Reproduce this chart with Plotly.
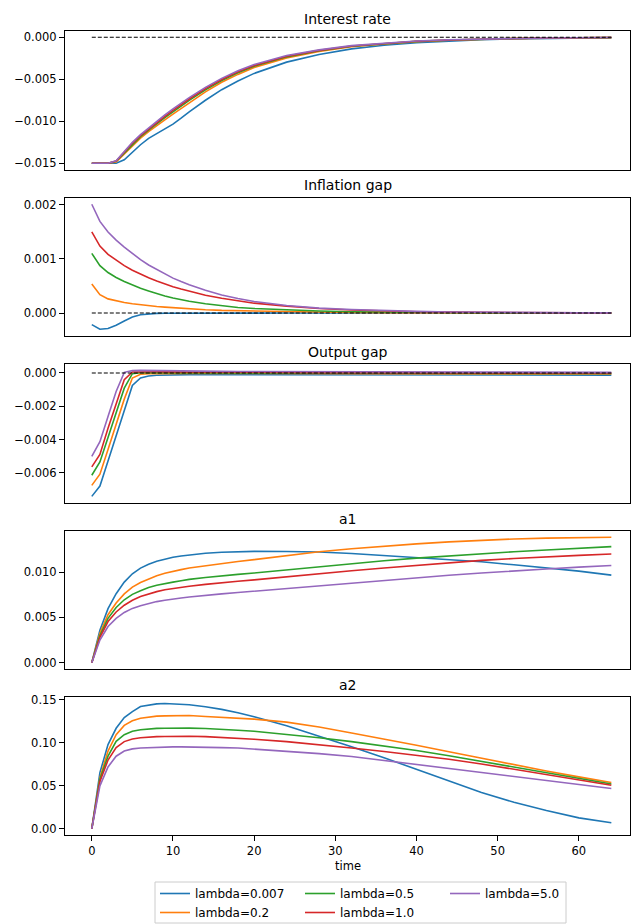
import plotly.graph_objects as go

# Simulated impulse responses, sampled on this time grid
time = [0, 1, 2, 3, 4, 5, 6, 7, 8, 9, 10, 11, 12, 14, 16, 18, 20,
        24, 28, 32, 36, 40, 44, 48, 52, 56, 60, 64]

labels = ["lambda=0.007", "lambda=0.2", "lambda=0.5", "lambda=1.0", "lambda=5.0"]
colors = ["#1f77b4", "#ff7f0e", "#2ca02c", "#d62728", "#9467bd"]
# column-wise legend layout (3 columns): 0.007, 0.5, 5.0 / 0.2, 1.0
legend_rank = [1, 4, 2, 5, 3]

interest_rate = [
    [-0.01500, -0.01500, -0.01500, -0.01500, -0.01460, -0.01370, -0.01280, -0.01204, -0.01145, -0.01093,
     -0.01034, -0.00963, -0.00888, -0.00750, -0.00624, -0.00521, -0.00430, -0.00296, -0.00205, -0.00138,
     -0.00095, -0.00065, -0.00045, -0.00030, -0.00020, -0.00013, -0.00008, -0.00005],
    [-0.01500, -0.01500, -0.01500, -0.01485, -0.01394, -0.01293, -0.01202, -0.01124, -0.01050, -0.00983,
     -0.00916, -0.00847, -0.00778, -0.00650, -0.00536, -0.00442, -0.00361, -0.00245, -0.00169, -0.00113,
     -0.00079, -0.00052, -0.00035, -0.000235, -0.000155, -0.00010, -0.00006, -0.000037],
    [-0.01500, -0.01500, -0.01500, -0.01476, -0.01378, -0.01275, -0.01184, -0.01106, -0.01028, -0.00958,
     -0.00889, -0.00821, -0.00752, -0.00627, -0.00516, -0.00423, -0.00345, -0.00233, -0.00161, -0.00107,
     -0.00075, -0.00049, -0.00033, -0.00022, -0.000144, -0.00009, -0.000056, -0.000034],
    [-0.01500, -0.01500, -0.01500, -0.01473, -0.01368, -0.01263, -0.01172, -0.01093, -0.01014, -0.00941,
     -0.00871, -0.00803, -0.00735, -0.00611, -0.00503, -0.00411, -0.00335, -0.00225, -0.00156, -0.00103,
     -0.00073, -0.00047, -0.00032, -0.00021, -0.00014, -0.000085, -0.000053, -0.000032],
    [-0.01500, -0.01500, -0.01500, -0.01470, -0.01358, -0.01251, -0.01160, -0.01081, -0.00999, -0.00924,
     -0.00853, -0.00785, -0.00718, -0.00596, -0.00489, -0.00399, -0.00324, -0.00217, -0.00150, -0.00099,
     -0.00070, -0.00045, -0.00030, -0.00020, -0.00013, -0.00008, -0.00005, -0.00003],
]

inflation_gap = [
    [-0.000213, -0.000299, -0.000287, -0.000226, -0.000146, -0.000073, -0.000031, -0.000012, -0.000006, -0.000003,
     -0.000002, -0.000001, -0.000001, -0.000001, 0.0, 0.0, 0.0, 0.0, 0.0, 0.0,
     0.0, 0.0, 0.0, 0.0, 0.0, 0.0, 0.0, 0.0],
    [0.000537, 0.000341, 0.000262, 0.000226, 0.000195, 0.000171, 0.000152, 0.000134, 0.000122, 0.000110,
     0.000098, 0.000088, 0.000079, 0.000061, 0.000049, 0.000043, 0.000037, 0.000024, 0.000016, 0.000010,
     0.000007, 0.000005, 0.000003, 0.000002, 0.000001, 0.000001, 0.000001, 0.0],
    [0.001104, 0.000878, 0.000750, 0.000659, 0.000585, 0.000518, 0.000457, 0.000409, 0.000360, 0.000317,
     0.000280, 0.000249, 0.000220, 0.000171, 0.000134, 0.000104, 0.000085, 0.000055, 0.000037, 0.000024,
     0.000016, 0.000010, 0.000007, 0.000005, 0.000003, 0.000002, 0.000001, 0.000001],
    [0.001500, 0.001238, 0.001085, 0.000976, 0.000878, 0.000793, 0.000720, 0.000652, 0.000592, 0.000537,
     0.000488, 0.000444, 0.000402, 0.000329, 0.000274, 0.000226, 0.000183, 0.000128, 0.000085, 0.000057,
     0.000038, 0.000025, 0.000017, 0.000011, 0.000007, 0.000005, 0.000003, 0.000002],
    [0.002012, 0.001695, 0.001500, 0.001348, 0.001220, 0.001100, 0.000988, 0.000890, 0.000805, 0.000720,
     0.000646, 0.000583, 0.000524, 0.000421, 0.000335, 0.000268, 0.000213, 0.000140, 0.000092, 0.000065,
     0.000045, 0.000031, 0.000021, 0.000014, 0.000009, 0.000006, 0.000004, 0.000003],
]

output_gap = [
    [-0.00741, -0.00679, -0.00528, -0.00377, -0.00226, -0.00075, -0.00030, -0.00018, -0.00014, -0.00012,
     -0.00011, -0.000105, -0.00010, -0.00010, -0.00010, -0.00010, -0.00010, -0.000105, -0.00011, -0.000115,
     -0.00012, -0.00012, -0.000125, -0.000125, -0.00013, -0.00013, -0.00013, -0.00013],
    [-0.00675, -0.00608, -0.00459, -0.00308, -0.00157, -0.00030, -0.00008, -0.00004, -0.00003, -0.00003,
     -0.00003, -0.00003, -0.00003, -0.00003, -0.00003, -0.000035, -0.00004, -0.00004, -0.000045, -0.00005,
     -0.00005, -0.000055, -0.000055, -0.00006, -0.00006, -0.00006, -0.000065, -0.000065],
    [-0.00614, -0.00534, -0.00387, -0.00238, -0.00091, -0.00004, 0.00002, 0.00002, 0.00002, 0.00002,
     0.000015, 0.000015, 0.00001, 0.00001, 0.000005, 0.0, 0.0, -0.000005, -0.00001, -0.00001,
     -0.000015, -0.00002, -0.00002, -0.000025, -0.000025, -0.00003, -0.00003, -0.00003],
    [-0.00564, -0.00489, -0.00332, -0.00181, -0.00040, 0.00006, 0.00008, 0.00008, 0.000075, 0.00007,
     0.000065, 0.00006, 0.00006, 0.00005, 0.000045, 0.00004, 0.000035, 0.00003, 0.000025, 0.00002,
     0.000015, 0.00001, 0.00001, 0.000005, 0.000005, 0.0, 0.0, 0.0],
    [-0.00501, -0.00413, -0.00262, -0.00111, 0.00004, 0.00014, 0.00016, 0.00015, 0.00014, 0.00013,
     0.00012, 0.000115, 0.00011, 0.00010, 0.000095, 0.00009, 0.000085, 0.00008, 0.000075, 0.00007,
     0.000065, 0.00006, 0.000055, 0.00005, 0.00005, 0.000045, 0.000045, 0.00004],
]

a1 = [
    [0.0, 0.00359, 0.00597, 0.00762, 0.00890, 0.00982, 0.01044, 0.01088, 0.01121, 0.01147,
     0.01165, 0.01179, 0.01190, 0.01209, 0.01220, 0.01227, 0.01229, 0.01228, 0.01222, 0.01205,
     0.01183, 0.01161, 0.01139, 0.01114, 0.01081, 0.01048, 0.01011, 0.00967],
    [0.0, 0.00325, 0.00530, 0.00660, 0.00760, 0.00835, 0.00885, 0.00925, 0.00960, 0.00987,
     0.01010, 0.01028, 0.01045, 0.01072, 0.01097, 0.01118, 0.01138, 0.01180, 0.01225, 0.01258,
     0.01288, 0.01312, 0.01334, 0.01352, 0.01366, 0.01375, 0.01381, 0.01385],
    [0.0, 0.00300, 0.00490, 0.00610, 0.00695, 0.00755, 0.00795, 0.00830, 0.00855, 0.00875,
     0.00890, 0.00905, 0.00920, 0.00940, 0.00960, 0.00975, 0.00990, 0.01025, 0.01060, 0.01095,
     0.01125, 0.01155, 0.01180, 0.01205, 0.01225, 0.01245, 0.01265, 0.01282],
    [0.0, 0.00280, 0.00455, 0.00560, 0.00635, 0.00690, 0.00730, 0.00760, 0.00785, 0.00805,
     0.00820, 0.00833, 0.00845, 0.00865, 0.00885, 0.00900, 0.00915, 0.00950, 0.00980, 0.01015,
     0.01045, 0.01075, 0.01100, 0.01130, 0.01150, 0.01170, 0.01185, 0.01200],
    [0.0, 0.00250, 0.00400, 0.00490, 0.00555, 0.00600, 0.00630, 0.00655, 0.00675, 0.00690,
     0.00705, 0.00715, 0.00725, 0.00745, 0.00760, 0.00775, 0.00790, 0.00820, 0.00850, 0.00880,
     0.00910, 0.00935, 0.00965, 0.00990, 0.01015, 0.01035, 0.01055, 0.01073],
]

a2 = [
    [0.0, 0.0654, 0.0980, 0.1170, 0.1296, 0.1365, 0.1423, 0.1442, 0.1454, 0.1458,
     0.1452, 0.1448, 0.1444, 0.1420, 0.1390, 0.1350, 0.1305, 0.1200, 0.1080, 0.0955,
     0.0827, 0.0692, 0.0558, 0.0423, 0.0308, 0.0212, 0.0127, 0.0069],
    [0.0, 0.0596, 0.0904, 0.1096, 0.1204, 0.1258, 0.1288, 0.1304, 0.1312, 0.1315,
     0.1319, 0.1319, 0.1319, 0.1308, 0.1300, 0.1288, 0.1277, 0.1242, 0.1185, 0.1115,
     0.1046, 0.0973, 0.0896, 0.0819, 0.0742, 0.0673, 0.0604, 0.0538],
    [0.0, 0.0577, 0.0846, 0.1019, 0.1096, 0.1135, 0.1154, 0.1165, 0.1169, 0.1171,
     0.1173, 0.1173, 0.1172, 0.1168, 0.1160, 0.1148, 0.1135, 0.1100, 0.1060, 0.1015,
     0.0965, 0.0912, 0.0850, 0.0785, 0.0718, 0.0652, 0.0585, 0.0522],
    [0.0, 0.0550, 0.0800, 0.0945, 0.1015, 0.1045, 0.1060, 0.1068, 0.1073, 0.1075,
     0.1077, 0.1077, 0.1077, 0.1073, 0.1065, 0.1055, 0.1042, 0.1015, 0.0980, 0.0940,
     0.0900, 0.0858, 0.0810, 0.0755, 0.0695, 0.0635, 0.0572, 0.0507],
    [0.0, 0.0500, 0.0720, 0.0845, 0.0905, 0.0930, 0.0940, 0.0945, 0.0950, 0.0952,
     0.0953, 0.0953, 0.0953, 0.0950, 0.0945, 0.0940, 0.0928, 0.0905, 0.0875, 0.0842,
     0.0795, 0.0742, 0.0696, 0.0650, 0.0605, 0.0560, 0.0515, 0.0468],
]

panel_titles = ["Interest rate", "Inflation gap", "Output gap", "a1", "a2"]
panel_series = [interest_rate, inflation_gap, output_gap, a1, a2]
steady_state = [0.0, 0.0]          # reference level for the gap variables
dashed_panels = [True, True, True, False, False]

# ---- layout geometry (pixels) ----
W, H = 631, 924
ML, MR = 65, 1
PW = W - ML - MR
panel_px = [(31, 169.5), (198, 335.5), (364, 502.7), (531, 669), (697.3, 835)]
y_ranges = [(-0.01575, 0.00075), (-0.000415, 0.002128), (-0.00779, 0.00054),
            (-0.00069, 0.01454), (-0.00729, 0.1531)]
y_dticks = [0.005, 0.001, 0.002, 0.005, 0.05]
y_formats = [".3f", ".3f", ".3f", ".3f", ".2f"]
x_range = [-3.3, 66.3]
legend_box = (155, 882, 566, 923)   # left, top, right, bottom

FONT = "DejaVu Sans"
fig = go.Figure()

for p, series in enumerate(panel_series):
    ax = "" if p == 0 else str(p + 1)
    for i, ys in enumerate(series):
        fig.add_trace(go.Scatter(
            x=time, y=ys, mode="lines", name=labels[i],
            line=dict(color=colors[i], width=1.6),
            legendgroup=labels[i], legendrank=legend_rank[i],
            showlegend=(p == 0), xaxis="x" + ax, yaxis="y" + ax,
        ))
    if dashed_panels[p]:
        fig.add_trace(go.Scatter(
            x=[time[0], time[-1]], y=steady_state, mode="lines",
            line=dict(color="black", width=1.1, dash="4px,2px"),
            showlegend=False, hoverinfo="skip", xaxis="x" + ax, yaxis="y" + ax,
        ))

axis_common = dict(showline=True, mirror=True, linecolor="black", linewidth=1,
                   showgrid=False, zeroline=False,
                   tickfont=dict(family=FONT, size=11.5, color="black"))

layout = dict(
    width=W, height=H,
    margin=dict(l=ML, r=MR, t=0, b=0, autoexpand=False),
    paper_bgcolor="white", plot_bgcolor="white",
    font=dict(family=FONT, size=11.5, color="black"),
    showlegend=True,
    legend=dict(orientation="h", x=(legend_box[0] - ML) / PW, xanchor="left",
                y=1 - 879 / H, yanchor="top", entrywidth=100,
                borderwidth=0, bgcolor="rgba(0,0,0,0)",
                font=dict(family=FONT, size=12, color="black"),
                traceorder="normal"),
    # frame around the legend entries
    shapes=[dict(type="rect", xref="paper", yref="paper", layer="below",
                 x0=(legend_box[0] - ML) / PW, x1=(legend_box[2] - ML) / PW,
                 y0=1 - legend_box[3] / H, y1=1 - legend_box[1] / H,
                 line=dict(color="#cccccc", width=1), fillcolor="white")],
)

annotations = []
for p in range(5):
    ax = "" if p == 0 else str(p + 1)
    top, bot = panel_px[p]
    dom = [1 - bot / H, 1 - top / H]
    last = (p == 4)
    layout["xaxis" + ax] = dict(
        axis_common, domain=[0, 1], range=x_range, anchor="y" + ax,
        showticklabels=last, ticks="outside" if last else "",
        ticklen=5, tickwidth=1, tickcolor="black", dtick=10, tick0=0,
        matches=None if p == 0 else "x",
    )
    layout["yaxis" + ax] = dict(
        axis_common, domain=dom, range=list(y_ranges[p]), anchor="x" + ax,
        ticks="outside", ticklen=5, tickwidth=1, tickcolor="black",
        dtick=y_dticks[p], tick0=0, tickformat=y_formats[p],
    )
    annotations.append(dict(
        text=panel_titles[p], xref="paper", yref="paper",
        x=0.5, y=1 - (top - 12.5) / H, xanchor="center", yanchor="middle",
        showarrow=False, font=dict(family=FONT, size=14, color="black"),
    ))

annotations.append(dict(
    text="time", xref="paper", yref="paper", x=0.5, y=1 - 866 / H,
    xanchor="center", yanchor="middle", showarrow=False,
    font=dict(family=FONT, size=11.5, color="black"),
))
layout["annotations"] = annotations

fig.update_layout(**layout)
fig.write_html("out.html")
